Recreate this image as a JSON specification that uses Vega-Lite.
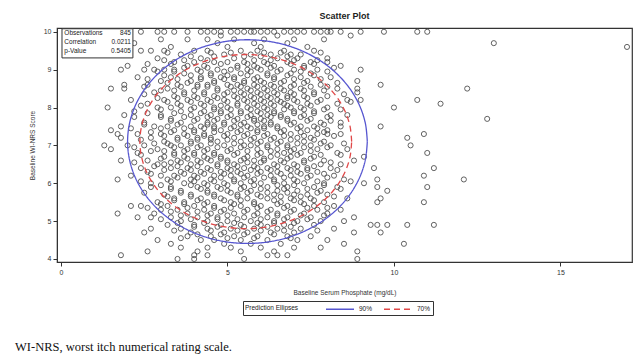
{
"$schema": "https://vega.github.io/schema/vega-lite/v6.json",
"width": 575, "height": 234,
"autosize": "none",
"padding": {"left": 57, "top": 28, "right": 3, "bottom": 99},
"background": "white",
"title": {"text": "Scatter Plot", "fontSize": 9, "fontWeight": "bold", "font": "Liberation Sans", "anchor": "middle", "offset": 6, "color": "#222"},
"config": {
  "view": {"stroke": "#333", "strokeWidth": 1.2},
  "axis": {"grid": false, "domainColor": "#333", "tickColor": "#333", "labelFont": "Liberation Sans", "titleFont": "Liberation Sans", "labelFontSize": 7, "titleFontSize": 6.5, "titleFontWeight": "normal", "labelColor": "#333", "titleColor": "#333", "tickSize": 4, "labelOverlap": false},
  "legend": {"labelFont": "Liberation Sans", "titleFont": "Liberation Sans"}
},
"datasets": {
"pts": [
{"x":2.4,"y":10},{"x":2.9,"y":10},{"x":3.1,"y":10},{"x":3.4,"y":10},{"x":3.8,"y":10},{"x":4.2,"y":10},{"x":4.4,"y":10},{"x":4.6,"y":10},{"x":4.8,"y":10},{"x":5.1,"y":10},{"x":5.3,"y":10},{"x":5.5,"y":10},{"x":5.7,"y":10},{"x":5.8,"y":10},{"x":6.0,"y":10},{"x":6.2,"y":10},{"x":6.4,"y":10},{"x":6.7,"y":10},{"x":6.9,"y":10},{"x":7.1,"y":10},{"x":7.3,"y":10},{"x":7.6,"y":10},{"x":7.8,"y":10},{"x":8.0,"y":10},{"x":8.1,"y":10},{"x":8.4,"y":10},{"x":9.0,"y":10},{"x":9.7,"y":10},{"x":10.7,"y":10},{"x":11.0,"y":10},
{"x":4.8,"y":9.9},{"x":6.5,"y":9.9},{"x":8.7,"y":9.9},
{"x":3.0,"y":9.8},{"x":3.8,"y":9.8},{"x":4.4,"y":9.8},{"x":5.2,"y":9.8},{"x":6.1,"y":9.8},{"x":7.0,"y":9.8},{"x":7.9,"y":9.8},
{"x":2.2,"y":9.7},{"x":4.7,"y":9.7},{"x":5.8,"y":9.7},{"x":6.8,"y":9.7},{"x":13.0,"y":9.7},
{"x":3.3,"y":9.6},{"x":5.0,"y":9.6},{"x":6.0,"y":9.6},{"x":7.4,"y":9.6},{"x":17.0,"y":9.6},
{"x":2.4,"y":9.5},{"x":2.7,"y":9.5},{"x":3.1,"y":9.5},{"x":4.0,"y":9.5},{"x":4.4,"y":9.5},{"x":5.4,"y":9.5},{"x":5.9,"y":9.5},{"x":6.7,"y":9.5},{"x":7.6,"y":9.5},
{"x":3.6,"y":9.4},{"x":4.9,"y":9.4},{"x":5.7,"y":9.4},{"x":6.3,"y":9.4},{"x":6.9,"y":9.4},{"x":7.2,"y":9.4},
{"x":2.9,"y":9.3},{"x":4.2,"y":9.3},{"x":5.2,"y":9.3},{"x":6.5,"y":9.3},{"x":7.1,"y":9.3},{"x":8.0,"y":9.3},
{"x":3.4,"y":9.2},{"x":4.0,"y":9.2},{"x":4.6,"y":9.2},{"x":5.0,"y":9.2},{"x":5.5,"y":9.2},{"x":6.1,"y":9.2},{"x":6.8,"y":9.2},{"x":7.5,"y":9.2},{"x":8.0,"y":9.2},
{"x":2.0,"y":9.1},{"x":3.8,"y":9.1},{"x":4.3,"y":9.1},{"x":5.3,"y":9.1},{"x":5.8,"y":9.1},{"x":6.4,"y":9.1},{"x":7.3,"y":9.1},{"x":8.4,"y":9.1},
{"x":1.8,"y":9.0},{"x":2.5,"y":9.0},{"x":2.8,"y":9.0},{"x":3.1,"y":9.0},{"x":3.4,"y":9.0},{"x":4.1,"y":9.0},{"x":4.7,"y":9.0},{"x":5.1,"y":9.0},{"x":5.6,"y":9.0},{"x":6.0,"y":9.0},{"x":6.6,"y":9.0},{"x":7.0,"y":9.0},{"x":7.7,"y":9.0},{"x":9.0,"y":9.0},
{"x":3.7,"y":8.9},{"x":4.5,"y":8.9},{"x":5.4,"y":8.9},{"x":6.2,"y":8.9},{"x":6.9,"y":8.9},{"x":7.5,"y":8.9},
{"x":2.3,"y":8.8},{"x":3.3,"y":8.8},{"x":4.2,"y":8.8},{"x":4.8,"y":8.8},{"x":5.2,"y":8.8},{"x":5.9,"y":8.8},{"x":6.4,"y":8.8},{"x":7.2,"y":8.8},{"x":8.1,"y":8.8},
{"x":3.0,"y":8.7},{"x":3.9,"y":8.7},{"x":4.6,"y":8.7},{"x":5.5,"y":8.7},{"x":6.0,"y":8.7},{"x":6.7,"y":8.7},{"x":7.4,"y":8.7},{"x":8.9,"y":8.7},
{"x":1.9,"y":8.6},{"x":2.6,"y":8.6},{"x":3.5,"y":8.6},{"x":4.1,"y":8.6},{"x":4.4,"y":8.6},{"x":5.0,"y":8.6},{"x":5.3,"y":8.6},{"x":5.8,"y":8.6},{"x":6.3,"y":8.6},{"x":7.0,"y":8.6},{"x":7.8,"y":8.6},{"x":9.6,"y":8.6},
{"x":1.5,"y":8.5},{"x":1.9,"y":8.5},{"x":3.2,"y":8.5},{"x":4.7,"y":8.5},{"x":5.6,"y":8.5},{"x":6.1,"y":8.5},{"x":6.6,"y":8.5},{"x":7.2,"y":8.5},{"x":8.3,"y":8.5},{"x":8.9,"y":8.5},{"x":12.2,"y":8.5},
{"x":2.8,"y":8.4},{"x":3.7,"y":8.4},{"x":4.3,"y":8.4},{"x":5.0,"y":8.4},{"x":5.4,"y":8.4},{"x":5.9,"y":8.4},{"x":6.4,"y":8.4},{"x":6.9,"y":8.4},{"x":7.6,"y":8.4},{"x":8.9,"y":8.4},
{"x":3.4,"y":8.3},{"x":4.0,"y":8.3},{"x":4.6,"y":8.3},{"x":5.2,"y":8.3},{"x":5.7,"y":8.3},{"x":6.2,"y":8.3},{"x":6.8,"y":8.3},{"x":7.3,"y":8.3},{"x":8.0,"y":8.3},
{"x":2.1,"y":8.2},{"x":3.1,"y":8.2},{"x":3.8,"y":8.2},{"x":4.4,"y":8.2},{"x":4.9,"y":8.2},{"x":5.5,"y":8.2},{"x":6.0,"y":8.2},{"x":6.5,"y":8.2},{"x":7.0,"y":8.2},{"x":7.8,"y":8.2},{"x":8.6,"y":8.2},{"x":9.0,"y":8.2},{"x":10.7,"y":8.2},
{"x":2.6,"y":8.1},{"x":3.5,"y":8.1},{"x":4.2,"y":8.1},{"x":5.3,"y":8.1},{"x":5.8,"y":8.1},{"x":6.3,"y":8.1},{"x":6.7,"y":8.1},{"x":7.4,"y":8.1},{"x":8.3,"y":8.1},{"x":11.4,"y":8.1},
{"x":1.4,"y":8.0},{"x":2.9,"y":8.0},{"x":3.3,"y":8.0},{"x":4.0,"y":8.0},{"x":4.6,"y":8.0},{"x":5.0,"y":8.0},{"x":5.6,"y":8.0},{"x":6.1,"y":8.0},{"x":6.9,"y":8.0},{"x":7.2,"y":8.0},{"x":8.0,"y":8.0},{"x":10.0,"y":8.0},
{"x":2.2,"y":7.9},{"x":3.6,"y":7.9},{"x":4.3,"y":7.9},{"x":4.8,"y":7.9},{"x":5.4,"y":7.9},{"x":5.9,"y":7.9},{"x":6.4,"y":7.9},{"x":7.0,"y":7.9},{"x":7.6,"y":7.9},
{"x":1.9,"y":7.8},{"x":3.0,"y":7.8},{"x":3.9,"y":7.8},{"x":4.5,"y":7.8},{"x":5.1,"y":7.8},{"x":5.7,"y":7.8},{"x":6.2,"y":7.8},{"x":6.6,"y":7.8},{"x":7.3,"y":7.8},{"x":8.1,"y":7.8},{"x":8.6,"y":7.8},
{"x":3.3,"y":7.7},{"x":4.1,"y":7.7},{"x":4.7,"y":7.7},{"x":5.3,"y":7.7},{"x":5.8,"y":7.7},{"x":6.0,"y":7.7},{"x":6.8,"y":7.7},{"x":7.5,"y":7.7},{"x":12.8,"y":7.7},
{"x":2.5,"y":7.6},{"x":3.6,"y":7.6},{"x":4.4,"y":7.6},{"x":4.9,"y":7.6},{"x":5.5,"y":7.6},{"x":6.3,"y":7.6},{"x":7.0,"y":7.6},{"x":7.8,"y":7.6},{"x":8.4,"y":7.6},
{"x":1.8,"y":7.5},{"x":2.8,"y":7.5},{"x":3.2,"y":7.5},{"x":3.9,"y":7.5},{"x":4.2,"y":7.5},{"x":4.6,"y":7.5},{"x":5.2,"y":7.5},{"x":5.6,"y":7.5},{"x":6.1,"y":7.5},{"x":6.5,"y":7.5},{"x":7.2,"y":7.5},{"x":7.6,"y":7.5},{"x":8.4,"y":7.5},{"x":9.6,"y":7.5},
{"x":1.5,"y":7.4},{"x":3.4,"y":7.4},{"x":4.0,"y":7.4},{"x":4.8,"y":7.4},{"x":5.4,"y":7.4},{"x":5.9,"y":7.4},{"x":6.7,"y":7.4},{"x":7.4,"y":7.4},{"x":8.0,"y":7.4},
{"x":1.7,"y":7.3},{"x":2.3,"y":7.3},{"x":3.0,"y":7.3},{"x":3.7,"y":7.3},{"x":4.3,"y":7.3},{"x":5.0,"y":7.3},{"x":5.6,"y":7.3},{"x":6.2,"y":7.3},{"x":6.9,"y":7.3},{"x":7.7,"y":7.3},{"x":8.0,"y":7.3},{"x":8.4,"y":7.3},{"x":10.9,"y":7.3},
{"x":1.8,"y":7.2},{"x":2.7,"y":7.2},{"x":3.5,"y":7.2},{"x":4.1,"y":7.2},{"x":4.5,"y":7.2},{"x":5.2,"y":7.2},{"x":5.8,"y":7.2},{"x":6.4,"y":7.2},{"x":7.1,"y":7.2},{"x":7.5,"y":7.2},{"x":10.4,"y":7.2},
{"x":3.1,"y":7.1},{"x":3.9,"y":7.1},{"x":4.7,"y":7.1},{"x":5.4,"y":7.1},{"x":6.0,"y":7.1},{"x":6.6,"y":7.1},{"x":7.3,"y":7.1},{"x":7.9,"y":7.1},
{"x":1.3,"y":7.0},{"x":2.0,"y":7.0},{"x":2.5,"y":7.0},{"x":3.3,"y":7.0},{"x":3.6,"y":7.0},{"x":4.2,"y":7.0},{"x":4.9,"y":7.0},{"x":5.5,"y":7.0},{"x":5.7,"y":7.0},{"x":6.2,"y":7.0},{"x":6.8,"y":7.0},{"x":7.5,"y":7.0},{"x":8.1,"y":7.0},{"x":10.5,"y":7.0},
{"x":1.5,"y":6.9},{"x":2.9,"y":6.9},{"x":3.8,"y":6.9},{"x":4.4,"y":6.9},{"x":5.1,"y":6.9},{"x":5.9,"y":6.9},{"x":6.5,"y":6.9},{"x":7.0,"y":6.9},{"x":7.7,"y":6.9},{"x":8.6,"y":6.9},
{"x":2.3,"y":6.8},{"x":3.4,"y":6.8},{"x":4.0,"y":6.8},{"x":4.6,"y":6.8},{"x":5.3,"y":6.8},{"x":6.0,"y":6.8},{"x":6.7,"y":6.8},{"x":7.2,"y":6.8},{"x":8.3,"y":6.8},{"x":11.0,"y":6.8},
{"x":3.1,"y":6.7},{"x":3.7,"y":6.7},{"x":4.3,"y":6.7},{"x":4.8,"y":6.7},{"x":5.6,"y":6.7},{"x":6.3,"y":6.7},{"x":6.9,"y":6.7},{"x":7.6,"y":6.7},{"x":9.1,"y":6.7},
{"x":1.8,"y":6.6},{"x":2.6,"y":6.6},{"x":3.5,"y":6.6},{"x":4.1,"y":6.6},{"x":4.5,"y":6.6},{"x":5.0,"y":6.6},{"x":5.4,"y":6.6},{"x":5.8,"y":6.6},{"x":6.1,"y":6.6},{"x":6.6,"y":6.6},{"x":7.3,"y":6.6},{"x":7.9,"y":6.6},{"x":8.8,"y":6.6},
{"x":2.9,"y":6.5},{"x":3.1,"y":6.5},{"x":3.9,"y":6.5},{"x":4.7,"y":6.5},{"x":5.2,"y":6.5},{"x":6.4,"y":6.5},{"x":7.0,"y":6.5},{"x":7.8,"y":6.5},{"x":8.4,"y":6.5},
{"x":2.4,"y":6.4},{"x":3.3,"y":6.4},{"x":3.8,"y":6.4},{"x":4.4,"y":6.4},{"x":5.0,"y":6.4},{"x":5.5,"y":6.4},{"x":5.9,"y":6.4},{"x":6.2,"y":6.4},{"x":6.8,"y":6.4},{"x":7.4,"y":6.4},{"x":8.1,"y":6.4},{"x":9.4,"y":6.4},{"x":11.2,"y":6.4},
{"x":2.6,"y":6.3},{"x":3.6,"y":6.3},{"x":4.2,"y":6.3},{"x":4.8,"y":6.3},{"x":5.3,"y":6.3},{"x":6.0,"y":6.3},{"x":6.5,"y":6.3},{"x":7.1,"y":6.3},{"x":7.7,"y":6.3},
{"x":2.1,"y":6.2},{"x":3.0,"y":6.2},{"x":3.4,"y":6.2},{"x":4.0,"y":6.2},{"x":4.6,"y":6.2},{"x":5.1,"y":6.2},{"x":5.6,"y":6.2},{"x":6.3,"y":6.2},{"x":6.9,"y":6.2},{"x":7.5,"y":6.2},{"x":8.2,"y":6.2},{"x":10.9,"y":6.2},
{"x":1.7,"y":6.1},{"x":3.2,"y":6.1},{"x":3.9,"y":6.1},{"x":4.5,"y":6.1},{"x":5.2,"y":6.1},{"x":5.8,"y":6.1},{"x":6.4,"y":6.1},{"x":7.0,"y":6.1},{"x":8.5,"y":6.1},{"x":9.5,"y":6.1},{"x":12.1,"y":6.1},
{"x":2.7,"y":6.0},{"x":3.7,"y":6.0},{"x":4.3,"y":6.0},{"x":4.9,"y":6.0},{"x":5.4,"y":6.0},{"x":6.0,"y":6.0},{"x":6.7,"y":6.0},{"x":7.3,"y":6.0},{"x":7.9,"y":6.0},{"x":9.1,"y":6.0},
{"x":2.7,"y":5.9},{"x":3.3,"y":5.9},{"x":4.1,"y":5.9},{"x":4.7,"y":5.9},{"x":5.5,"y":5.9},{"x":6.2,"y":5.9},{"x":6.8,"y":5.9},{"x":7.6,"y":5.9},{"x":8.3,"y":5.9},{"x":9.5,"y":5.9},{"x":11.0,"y":5.9},
{"x":3.6,"y":5.8},{"x":4.4,"y":5.8},{"x":5.0,"y":5.8},{"x":5.7,"y":5.8},{"x":6.5,"y":5.8},{"x":7.1,"y":5.8},{"x":7.8,"y":5.8},{"x":9.8,"y":5.8},
{"x":3.1,"y":5.7},{"x":3.9,"y":5.7},{"x":4.6,"y":5.7},{"x":5.3,"y":5.7},{"x":5.9,"y":5.7},{"x":6.4,"y":5.7},{"x":7.0,"y":5.7},{"x":7.4,"y":5.7},{"x":8.0,"y":5.7},
{"x":3.4,"y":5.6},{"x":4.2,"y":5.6},{"x":4.8,"y":5.6},{"x":5.6,"y":5.6},{"x":6.2,"y":5.6},{"x":6.9,"y":5.6},{"x":7.5,"y":5.6},{"x":8.6,"y":5.6},{"x":9.6,"y":5.6},
{"x":2.9,"y":5.5},{"x":3.7,"y":5.5},{"x":4.4,"y":5.5},{"x":5.1,"y":5.5},{"x":5.8,"y":5.5},{"x":6.6,"y":5.5},{"x":7.2,"y":5.5},{"x":7.9,"y":5.5},{"x":9.5,"y":5.5},{"x":10.9,"y":5.5},
{"x":2.1,"y":5.4},{"x":2.4,"y":5.4},{"x":3.2,"y":5.4},{"x":4.0,"y":5.4},{"x":4.6,"y":5.4},{"x":5.4,"y":5.4},{"x":6.0,"y":5.4},{"x":6.8,"y":5.4},{"x":7.6,"y":5.4},{"x":8.2,"y":5.4},
{"x":3.0,"y":5.3},{"x":3.5,"y":5.3},{"x":4.3,"y":5.3},{"x":4.9,"y":5.3},{"x":5.6,"y":5.3},{"x":6.3,"y":5.3},{"x":7.0,"y":5.3},{"x":7.7,"y":5.3},{"x":8.4,"y":5.3},
{"x":1.7,"y":5.2},{"x":2.8,"y":5.2},{"x":3.8,"y":5.2},{"x":4.5,"y":5.2},{"x":5.2,"y":5.2},{"x":5.9,"y":5.2},{"x":6.5,"y":5.2},{"x":7.3,"y":5.2},{"x":8.0,"y":5.2},
{"x":2.3,"y":5.1},{"x":2.7,"y":5.1},{"x":3.3,"y":5.1},{"x":4.1,"y":5.1},{"x":4.7,"y":5.1},{"x":5.5,"y":5.1},{"x":6.2,"y":5.1},{"x":6.8,"y":5.1},{"x":7.5,"y":5.1},{"x":8.8,"y":5.1},
{"x":3.6,"y":5.0},{"x":4.4,"y":5.0},{"x":5.0,"y":5.0},{"x":5.7,"y":5.0},{"x":6.4,"y":5.0},{"x":7.1,"y":5.0},{"x":7.8,"y":5.0},{"x":8.5,"y":5.0},
{"x":3.2,"y":4.9},{"x":4.0,"y":4.9},{"x":4.8,"y":4.9},{"x":5.4,"y":4.9},{"x":6.0,"y":4.9},{"x":6.7,"y":4.9},{"x":7.6,"y":4.9},{"x":9.3,"y":4.9},{"x":9.5,"y":4.9},{"x":9.8,"y":4.9},{"x":10.4,"y":4.9},{"x":11.2,"y":4.9},
{"x":2.7,"y":4.8},{"x":3.6,"y":4.8},{"x":4.4,"y":4.8},{"x":5.1,"y":4.8},{"x":5.8,"y":4.8},{"x":6.5,"y":4.8},{"x":7.2,"y":4.8},{"x":8.2,"y":4.8},
{"x":2.5,"y":4.7},{"x":3.9,"y":4.7},{"x":4.9,"y":4.7},{"x":5.6,"y":4.7},{"x":6.3,"y":4.7},{"x":7.0,"y":4.7},{"x":8.8,"y":4.7},{"x":9.6,"y":4.7},
{"x":3.8,"y":4.6},{"x":4.5,"y":4.6},{"x":5.2,"y":4.6},{"x":5.9,"y":4.6},{"x":6.8,"y":4.6},{"x":7.5,"y":4.6},
{"x":2.9,"y":4.5},{"x":4.2,"y":4.5},{"x":4.6,"y":4.5},{"x":5.4,"y":4.5},{"x":6.2,"y":4.5},{"x":7.1,"y":4.5},{"x":8.0,"y":4.5},
{"x":3.3,"y":4.4},{"x":4.9,"y":4.4},{"x":5.7,"y":4.4},{"x":6.6,"y":4.4},{"x":8.5,"y":4.4},{"x":10.3,"y":4.4},
{"x":3.6,"y":4.3},{"x":4.4,"y":4.3},{"x":5.1,"y":4.3},{"x":6.0,"y":4.3},{"x":7.0,"y":4.3},{"x":7.8,"y":4.3},
{"x":2.6,"y":4.2},{"x":4.1,"y":4.2},{"x":5.4,"y":4.2},{"x":6.4,"y":4.2},{"x":8.9,"y":4.2},
{"x":1.8,"y":4.1},{"x":4.0,"y":4.1},{"x":4.4,"y":4.1},{"x":6.2,"y":4.1},{"x":6.5,"y":4.1},{"x":6.8,"y":4.1},
{"x":3.5,"y":4.0},{"x":4.0,"y":4.0},{"x":5.5,"y":4.0},{"x":8.9,"y":4.0},
{"x":3.2,"y":9.45},{"x":4.5,"y":9.45},{"x":5.1,"y":9.45},{"x":6.1,"y":9.45},{"x":6.6,"y":9.45},{"x":7.8,"y":9.45},
{"x":3.9,"y":9.35},{"x":4.6,"y":9.35},{"x":5.5,"y":9.35},{"x":6.0,"y":9.35},{"x":6.8,"y":9.35},
{"x":3.1,"y":9.25},{"x":3.7,"y":9.25},{"x":4.4,"y":9.25},{"x":5.8,"y":9.25},{"x":6.3,"y":9.25},{"x":7.0,"y":9.25},{"x":7.7,"y":9.25},
{"x":2.6,"y":9.15},{"x":3.3,"y":9.15},{"x":4.8,"y":9.15},{"x":5.6,"y":9.15},{"x":6.2,"y":9.15},{"x":6.9,"y":9.15},{"x":7.6,"y":9.15},
{"x":3.7,"y":9.05},{"x":4.4,"y":9.05},{"x":5.3,"y":9.05},{"x":5.9,"y":9.05},{"x":6.3,"y":9.05},{"x":7.3,"y":9.05},{"x":8.2,"y":9.05},
{"x":2.9,"y":8.95},{"x":3.4,"y":8.95},{"x":4.2,"y":8.95},{"x":4.9,"y":8.95},{"x":5.7,"y":8.95},{"x":6.5,"y":8.95},{"x":7.2,"y":8.95},{"x":8.0,"y":8.95},
{"x":3.1,"y":8.85},{"x":3.9,"y":8.85},{"x":4.5,"y":8.85},{"x":5.0,"y":8.85},{"x":5.6,"y":8.85},{"x":6.2,"y":8.85},{"x":6.8,"y":8.85},{"x":7.6,"y":8.85},
{"x":2.6,"y":8.75},{"x":3.5,"y":8.75},{"x":4.2,"y":8.75},{"x":4.9,"y":8.75},{"x":5.2,"y":8.75},{"x":5.8,"y":8.75},{"x":6.4,"y":8.75},{"x":7.0,"y":8.75},{"x":7.8,"y":8.75},
{"x":3.2,"y":8.65},{"x":3.8,"y":8.65},{"x":4.6,"y":8.65},{"x":5.5,"y":8.65},{"x":6.1,"y":8.65},{"x":6.6,"y":8.65},{"x":7.3,"y":8.65},{"x":8.3,"y":8.65},
{"x":2.5,"y":8.55},{"x":3.6,"y":8.55},{"x":4.1,"y":8.55},{"x":4.4,"y":8.55},{"x":5.1,"y":8.55},{"x":5.4,"y":8.55},{"x":5.9,"y":8.55},{"x":6.4,"y":8.55},{"x":6.9,"y":8.55},{"x":7.5,"y":8.55},{"x":8.0,"y":8.55},
{"x":3.0,"y":8.45},{"x":3.4,"y":8.45},{"x":4.0,"y":8.45},{"x":4.7,"y":8.45},{"x":5.2,"y":8.45},{"x":5.7,"y":8.45},{"x":6.2,"y":8.45},{"x":6.7,"y":8.45},{"x":7.3,"y":8.45},{"x":7.9,"y":8.45},
{"x":2.5,"y":8.35},{"x":3.7,"y":8.35},{"x":4.3,"y":8.35},{"x":4.9,"y":8.35},{"x":5.5,"y":8.35},{"x":6.0,"y":8.35},{"x":6.5,"y":8.35},{"x":7.0,"y":8.35},{"x":7.6,"y":8.35},{"x":8.5,"y":8.35},
{"x":2.9,"y":8.25},{"x":3.5,"y":8.25},{"x":4.1,"y":8.25},{"x":4.7,"y":8.25},{"x":5.3,"y":8.25},{"x":5.8,"y":8.25},{"x":6.3,"y":8.25},{"x":6.8,"y":8.25},{"x":7.4,"y":8.25},
{"x":3.2,"y":8.15},{"x":3.9,"y":8.15},{"x":4.5,"y":8.15},{"x":5.0,"y":8.15},{"x":5.6,"y":8.15},{"x":6.1,"y":8.15},{"x":6.6,"y":8.15},{"x":7.1,"y":8.15},{"x":7.7,"y":8.15},{"x":8.7,"y":8.15},
{"x":2.4,"y":8.05},{"x":3.6,"y":8.05},{"x":4.3,"y":8.05},{"x":4.8,"y":8.05},{"x":5.3,"y":8.05},{"x":5.9,"y":8.05},{"x":6.4,"y":8.05},{"x":6.8,"y":8.05},{"x":7.5,"y":8.05},
{"x":3.0,"y":7.95},{"x":3.9,"y":7.95},{"x":4.6,"y":7.95},{"x":5.1,"y":7.95},{"x":5.7,"y":7.95},{"x":6.2,"y":7.95},{"x":6.7,"y":7.95},{"x":7.3,"y":7.95},{"x":7.9,"y":7.95},{"x":8.4,"y":7.95},
{"x":2.6,"y":7.85},{"x":3.4,"y":7.85},{"x":4.2,"y":7.85},{"x":4.8,"y":7.85},{"x":5.4,"y":7.85},{"x":6.0,"y":7.85},{"x":6.4,"y":7.85},{"x":7.0,"y":7.85},{"x":7.6,"y":7.85},
{"x":2.2,"y":7.75},{"x":3.0,"y":7.75},{"x":3.7,"y":7.75},{"x":4.4,"y":7.75},{"x":5.0,"y":7.75},{"x":5.6,"y":7.75},{"x":6.3,"y":7.75},{"x":6.6,"y":7.75},{"x":7.2,"y":7.75},{"x":8.0,"y":7.75},
{"x":3.3,"y":7.65},{"x":4.0,"y":7.65},{"x":4.6,"y":7.65},{"x":5.2,"y":7.65},{"x":5.8,"y":7.65},{"x":6.1,"y":7.65},{"x":6.8,"y":7.65},{"x":7.4,"y":7.65},{"x":8.1,"y":7.65},
{"x":2.5,"y":7.55},{"x":3.5,"y":7.55},{"x":4.4,"y":7.55},{"x":4.9,"y":7.55},{"x":5.4,"y":7.55},{"x":5.9,"y":7.55},{"x":6.3,"y":7.55},{"x":6.9,"y":7.55},{"x":7.9,"y":7.55},
{"x":2.1,"y":7.45},{"x":3.0,"y":7.45},{"x":3.7,"y":7.45},{"x":4.3,"y":7.45},{"x":4.6,"y":7.45},{"x":5.1,"y":7.45},{"x":5.7,"y":7.45},{"x":6.1,"y":7.45},{"x":6.5,"y":7.45},{"x":7.1,"y":7.45},{"x":7.7,"y":7.45},
{"x":2.7,"y":7.35},{"x":3.3,"y":7.35},{"x":4.0,"y":7.35},{"x":4.6,"y":7.35},{"x":5.3,"y":7.35},{"x":5.9,"y":7.35},{"x":6.6,"y":7.35},{"x":7.2,"y":7.35},{"x":7.9,"y":7.35},
{"x":3.1,"y":7.25},{"x":3.8,"y":7.25},{"x":4.3,"y":7.25},{"x":4.9,"y":7.25},{"x":5.5,"y":7.25},{"x":6.1,"y":7.25},{"x":6.7,"y":7.25},{"x":7.3,"y":7.25},{"x":8.2,"y":7.25},
{"x":2.4,"y":7.15},{"x":3.5,"y":7.15},{"x":4.1,"y":7.15},{"x":4.5,"y":7.15},{"x":5.0,"y":7.15},{"x":5.7,"y":7.15},{"x":6.3,"y":7.15},{"x":6.9,"y":7.15},{"x":7.6,"y":7.15},
{"x":2.8,"y":7.05},{"x":3.2,"y":7.05},{"x":3.9,"y":7.05},{"x":4.5,"y":7.05},{"x":5.2,"y":7.05},{"x":5.9,"y":7.05},{"x":6.5,"y":7.05},{"x":7.1,"y":7.05},{"x":7.8,"y":7.05},{"x":8.5,"y":7.05},
{"x":2.2,"y":6.95},{"x":3.4,"y":6.95},{"x":4.1,"y":6.95},{"x":4.7,"y":6.95},{"x":5.4,"y":6.95},{"x":6.2,"y":6.95},{"x":6.8,"y":6.95},{"x":7.3,"y":6.95},{"x":8.0,"y":6.95},
{"x":2.7,"y":6.85},{"x":3.1,"y":6.85},{"x":3.7,"y":6.85},{"x":4.3,"y":6.85},{"x":5.0,"y":6.85},{"x":5.6,"y":6.85},{"x":6.3,"y":6.85},{"x":6.9,"y":6.85},{"x":7.5,"y":6.85},
{"x":2.4,"y":6.75},{"x":3.4,"y":6.75},{"x":4.0,"y":6.75},{"x":4.6,"y":6.75},{"x":5.2,"y":6.75},{"x":5.9,"y":6.75},{"x":6.5,"y":6.75},{"x":7.1,"y":6.75},{"x":7.8,"y":6.75},{"x":8.4,"y":6.75},
{"x":3.0,"y":6.65},{"x":3.8,"y":6.65},{"x":4.4,"y":6.65},{"x":4.8,"y":6.65},{"x":5.5,"y":6.65},{"x":6.1,"y":6.65},{"x":6.8,"y":6.65},{"x":7.5,"y":6.65},
{"x":2.2,"y":6.55},{"x":3.3,"y":6.55},{"x":3.6,"y":6.55},{"x":4.2,"y":6.55},{"x":5.0,"y":6.55},{"x":5.6,"y":6.55},{"x":6.0,"y":6.55},{"x":6.7,"y":6.55},{"x":7.3,"y":6.55},{"x":8.1,"y":6.55},
{"x":2.8,"y":6.45},{"x":3.5,"y":6.45},{"x":4.1,"y":6.45},{"x":4.7,"y":6.45},{"x":5.3,"y":6.45},{"x":5.8,"y":6.45},{"x":6.5,"y":6.45},{"x":7.1,"y":6.45},{"x":7.6,"y":6.45},
{"x":3.1,"y":6.35},{"x":3.9,"y":6.35},{"x":4.5,"y":6.35},{"x":5.1,"y":6.35},{"x":5.7,"y":6.35},{"x":6.3,"y":6.35},{"x":6.9,"y":6.35},{"x":7.4,"y":6.35},{"x":8.3,"y":6.35},
{"x":2.7,"y":6.25},{"x":3.7,"y":6.25},{"x":4.3,"y":6.25},{"x":4.9,"y":6.25},{"x":5.4,"y":6.25},{"x":5.9,"y":6.25},{"x":6.6,"y":6.25},{"x":7.2,"y":6.25},{"x":7.9,"y":6.25},
{"x":3.5,"y":6.15},{"x":4.1,"y":6.15},{"x":4.8,"y":6.15},{"x":5.5,"y":6.15},{"x":6.1,"y":6.15},{"x":6.7,"y":6.15},{"x":7.4,"y":6.15},{"x":8.0,"y":6.15},
{"x":2.4,"y":6.05},{"x":3.3,"y":6.05},{"x":4.0,"y":6.05},{"x":4.6,"y":6.05},{"x":5.2,"y":6.05},{"x":5.7,"y":6.05},{"x":6.4,"y":6.05},{"x":7.1,"y":6.05},{"x":7.7,"y":6.05},{"x":8.7,"y":6.05},
{"x":3.0,"y":5.95},{"x":3.9,"y":5.95},{"x":4.4,"y":5.95},{"x":5.0,"y":5.95},{"x":5.8,"y":5.95},{"x":6.5,"y":5.95},{"x":7.0,"y":5.95},{"x":7.9,"y":5.95},
{"x":3.3,"y":5.85},{"x":4.2,"y":5.85},{"x":4.8,"y":5.85},{"x":5.4,"y":5.85},{"x":6.0,"y":5.85},{"x":6.7,"y":5.85},{"x":7.4,"y":5.85},{"x":8.4,"y":5.85},
{"x":2.5,"y":5.75},{"x":3.6,"y":5.75},{"x":4.4,"y":5.75},{"x":5.1,"y":5.75},{"x":5.6,"y":5.75},{"x":6.2,"y":5.75},{"x":6.8,"y":5.75},{"x":7.7,"y":5.75},
{"x":3.2,"y":5.65},{"x":3.9,"y":5.65},{"x":4.6,"y":5.65},{"x":5.3,"y":5.65},{"x":6.0,"y":5.65},{"x":6.6,"y":5.65},{"x":7.2,"y":5.65},{"x":8.2,"y":5.65},
{"x":3.4,"y":5.55},{"x":4.1,"y":5.55},{"x":4.9,"y":5.55},{"x":5.4,"y":5.55},{"x":6.4,"y":5.55},{"x":7.0,"y":5.55},{"x":7.6,"y":5.55},
{"x":3.0,"y":5.45},{"x":3.7,"y":5.45},{"x":4.3,"y":5.45},{"x":5.2,"y":5.45},{"x":5.8,"y":5.45},{"x":6.5,"y":5.45},{"x":7.3,"y":5.45},
{"x":2.6,"y":5.35},{"x":3.8,"y":5.35},{"x":4.6,"y":5.35},{"x":5.1,"y":5.35},{"x":5.9,"y":5.35},{"x":6.7,"y":5.35},{"x":7.4,"y":5.35},{"x":8.0,"y":5.35},
{"x":3.3,"y":5.25},{"x":4.1,"y":5.25},{"x":4.8,"y":5.25},{"x":5.5,"y":5.25},{"x":6.2,"y":5.25},{"x":6.9,"y":5.25},
{"x":3.6,"y":5.15},{"x":4.4,"y":5.15},{"x":5.0,"y":5.15},{"x":5.8,"y":5.15},{"x":6.5,"y":5.15},{"x":7.2,"y":5.15},{"x":7.9,"y":5.15},
{"x":3.0,"y":5.05},{"x":3.9,"y":5.05},{"x":4.7,"y":5.05},{"x":5.3,"y":5.05},{"x":6.0,"y":5.05},{"x":6.7,"y":5.05},{"x":7.4,"y":5.05},
{"x":3.5,"y":4.95},{"x":4.3,"y":4.95},{"x":5.2,"y":4.95},{"x":5.9,"y":4.95},{"x":6.4,"y":4.95},{"x":7.0,"y":4.95},
{"x":4.0,"y":4.85},{"x":4.7,"y":4.85},{"x":5.5,"y":4.85},{"x":6.2,"y":4.85},{"x":6.9,"y":4.85},
{"x":3.4,"y":4.75},{"x":4.5,"y":4.75},{"x":5.3,"y":4.75},{"x":6.0,"y":4.75},{"x":6.7,"y":4.75},{"x":7.7,"y":4.75},
{"x":4.1,"y":4.65},{"x":4.8,"y":4.65},{"x":5.5,"y":4.65},{"x":6.4,"y":4.65},
{"x":3.6,"y":4.55},{"x":5.0,"y":4.55},{"x":5.8,"y":4.55},{"x":6.9,"y":4.55}
],
"ell": [
{"level":"90%","t":0,"x":9.2,"y":7.1},{"level":"90%","t":10,"x":9.145,"y":7.567},{"level":"90%","t":20,"x":8.983,"y":8.02},{"level":"90%","t":30,"x":8.718,"y":8.445},{"level":"90%","t":40,"x":8.358,"y":8.829},{"level":"90%","t":50,"x":7.914,"y":9.161},{"level":"90%","t":60,"x":7.4,"y":9.43},{"level":"90%","t":70,"x":6.831,"y":9.628},{"level":"90%","t":80,"x":6.225,"y":9.749},{"level":"90%","t":90,"x":5.6,"y":9.79},{"level":"90%","t":100,"x":4.975,"y":9.749},{"level":"90%","t":110,"x":4.369,"y":9.628},{"level":"90%","t":120,"x":3.8,"y":9.43},{"level":"90%","t":130,"x":3.286,"y":9.161},{"level":"90%","t":140,"x":2.842,"y":8.829},{"level":"90%","t":150,"x":2.482,"y":8.445},{"level":"90%","t":160,"x":2.217,"y":8.02},{"level":"90%","t":170,"x":2.055,"y":7.567},{"level":"90%","t":180,"x":2.0,"y":7.1},{"level":"90%","t":190,"x":2.055,"y":6.633},{"level":"90%","t":200,"x":2.217,"y":6.18},{"level":"90%","t":210,"x":2.482,"y":5.755},{"level":"90%","t":220,"x":2.842,"y":5.371},{"level":"90%","t":230,"x":3.286,"y":5.039},{"level":"90%","t":240,"x":3.8,"y":4.77},{"level":"90%","t":250,"x":4.369,"y":4.572},{"level":"90%","t":260,"x":4.975,"y":4.451},{"level":"90%","t":270,"x":5.6,"y":4.41},{"level":"90%","t":280,"x":6.225,"y":4.451},{"level":"90%","t":290,"x":6.831,"y":4.572},{"level":"90%","t":300,"x":7.4,"y":4.77},{"level":"90%","t":310,"x":7.914,"y":5.039},{"level":"90%","t":320,"x":8.358,"y":5.371},{"level":"90%","t":330,"x":8.718,"y":5.755},{"level":"90%","t":340,"x":8.983,"y":6.18},{"level":"90%","t":350,"x":9.145,"y":6.633},{"level":"90%","t":360,"x":9.2,"y":7.1},
{"level":"70%","t":0,"x":8.73,"y":7.1},{"level":"70%","t":10,"x":8.682,"y":7.499},{"level":"70%","t":20,"x":8.538,"y":7.887},{"level":"70%","t":30,"x":8.304,"y":8.25},{"level":"70%","t":40,"x":7.986,"y":8.578},{"level":"70%","t":50,"x":7.594,"y":8.862},{"level":"70%","t":60,"x":7.14,"y":9.092},{"level":"70%","t":70,"x":6.638,"y":9.261},{"level":"70%","t":80,"x":6.102,"y":9.365},{"level":"70%","t":90,"x":5.55,"y":9.4},{"level":"70%","t":100,"x":4.998,"y":9.365},{"level":"70%","t":110,"x":4.462,"y":9.261},{"level":"70%","t":120,"x":3.96,"y":9.092},{"level":"70%","t":130,"x":3.506,"y":8.862},{"level":"70%","t":140,"x":3.114,"y":8.578},{"level":"70%","t":150,"x":2.796,"y":8.25},{"level":"70%","t":160,"x":2.562,"y":7.887},{"level":"70%","t":170,"x":2.418,"y":7.499},{"level":"70%","t":180,"x":2.37,"y":7.1},{"level":"70%","t":190,"x":2.418,"y":6.701},{"level":"70%","t":200,"x":2.562,"y":6.313},{"level":"70%","t":210,"x":2.796,"y":5.95},{"level":"70%","t":220,"x":3.114,"y":5.622},{"level":"70%","t":230,"x":3.506,"y":5.338},{"level":"70%","t":240,"x":3.96,"y":5.108},{"level":"70%","t":250,"x":4.462,"y":4.939},{"level":"70%","t":260,"x":4.998,"y":4.835},{"level":"70%","t":270,"x":5.55,"y":4.8},{"level":"70%","t":280,"x":6.102,"y":4.835},{"level":"70%","t":290,"x":6.638,"y":4.939},{"level":"70%","t":300,"x":7.14,"y":5.108},{"level":"70%","t":310,"x":7.594,"y":5.338},{"level":"70%","t":320,"x":7.986,"y":5.622},{"level":"70%","t":330,"x":8.304,"y":5.95},{"level":"70%","t":340,"x":8.538,"y":6.313},{"level":"70%","t":350,"x":8.682,"y":6.701},{"level":"70%","t":360,"x":8.73,"y":7.1}
]
},
"layer": [
{
  "data": {"name": "pts"},
  "mark": {"type": "point", "filled": false, "stroke": "#505050", "strokeWidth": 0.9, "size": 26, "opacity": 1},
  "encoding": {
    "x": {"field": "x", "type": "quantitative", "scale": {"domain": [-0.12, 17.15], "nice": false, "zero": false}, "axis": {"values": [0, 5, 10, 15], "title": "Baseline Serum Phosphate (mg/dL)", "titlePadding": 14}},
    "y": {"field": "y", "type": "quantitative", "scale": {"domain": [3.92, 10.1], "nice": false, "zero": false}, "axis": {"values": [4, 5, 6, 7, 8, 9, 10], "title": "Baseline WI-NRS Score", "titlePadding": 8}}
  }
},
{
  "data": {"name": "ell"},
  "mark": {"type": "line", "strokeWidth": 1.3, "interpolate": "catmull-rom"},
  "encoding": {
    "x": {"field": "x", "type": "quantitative", "axis": {"values": [0, 5, 10, 15], "title": "Baseline Serum Phosphate (mg/dL)", "titlePadding": 14}},
    "y": {"field": "y", "type": "quantitative", "axis": {"values": [4, 5, 6, 7, 8, 9, 10], "title": "Baseline WI-NRS Score", "titlePadding": 8}},
    "order": {"field": "t", "type": "quantitative"},
    "color": {"field": "level", "type": "nominal", "scale": {"domain": ["90%", "70%"], "range": ["#5656d0", "#e04848"]},
      "legend": {"title": "Prediction Ellipses", "orient": "none", "legendX": 186, "legendY": 273, "direction": "horizontal", "titleOrient": "left", "titleFontSize": 6.5, "titleFontWeight": "normal", "titleColor": "#222", "titlePadding": 26, "titleBaseline": "middle", "labelFontSize": 6.5, "labelColor": "#222", "symbolType": "M-1,0H4.6", "symbolSize": 100, "symbolStrokeWidth": 1.3, "strokeColor": "#333", "padding": 2, "columnPadding": 8, "labelOffset": 22}},
    "strokeDash": {"field": "level", "type": "nominal", "scale": {"domain": ["90%", "70%"], "range": [[1, 0], [6, 4]]}}
  }
},
{
  "data": {"values": [{}]},
  "mark": {"type": "rect", "fill": "white", "stroke": "#333", "strokeWidth": 1},
  "encoding": {
    "x": {"datum": 0.03, "type": "quantitative", "axis": {"values": [0, 5, 10, 15], "title": "Baseline Serum Phosphate (mg/dL)", "titlePadding": 14}},
    "x2": {"datum": 2.16},
    "y": {"datum": 10.08, "type": "quantitative", "axis": {"values": [4, 5, 6, 7, 8, 9, 10], "title": "Baseline WI-NRS Score", "titlePadding": 8}},
    "y2": {"datum": 9.31}
  }
},
{
  "data": {"values": [{}]},
  "mark": {"type": "text", "align": "left", "baseline": "top", "font": "Liberation Sans", "fontSize": 6.5, "lineHeight": 9, "color": "#222", "text": ["Observations", "Correlation", "p-Value"]},
  "encoding": {
    "x": {"datum": 0.1, "type": "quantitative", "axis": {"values": [0, 5, 10, 15], "title": "Baseline Serum Phosphate (mg/dL)", "titlePadding": 14}},
    "y": {"datum": 10.04, "type": "quantitative", "axis": {"values": [4, 5, 6, 7, 8, 9, 10], "title": "Baseline WI-NRS Score", "titlePadding": 8}}
  }
},
{
  "data": {"values": [{}]},
  "mark": {"type": "text", "align": "right", "baseline": "top", "font": "Liberation Sans", "fontSize": 6.5, "lineHeight": 9, "color": "#222", "text": ["845", "0.0211", "0.5405"]},
  "encoding": {
    "x": {"datum": 2.1, "type": "quantitative", "axis": {"values": [0, 5, 10, 15], "title": "Baseline Serum Phosphate (mg/dL)", "titlePadding": 14}},
    "y": {"datum": 10.04, "type": "quantitative", "axis": {"values": [4, 5, 6, 7, 8, 9, 10], "title": "Baseline WI-NRS Score", "titlePadding": 8}}
  }
},
{
  "data": {"values": [{}]},
  "mark": {"type": "text", "align": "left", "baseline": "middle", "font": "Liberation Serif", "fontSize": 12.5, "color": "#111", "text": "WI-NRS, worst itch numerical rating scale."},
  "encoding": {
    "x": {"datum": -1.38, "type": "quantitative", "axis": {"values": [0, 5, 10, 15], "title": "Baseline Serum Phosphate (mg/dL)", "titlePadding": 14}},
    "y": {"datum": 1.68, "type": "quantitative", "axis": {"values": [4, 5, 6, 7, 8, 9, 10], "title": "Baseline WI-NRS Score", "titlePadding": 8}}
  }
}
]
}
